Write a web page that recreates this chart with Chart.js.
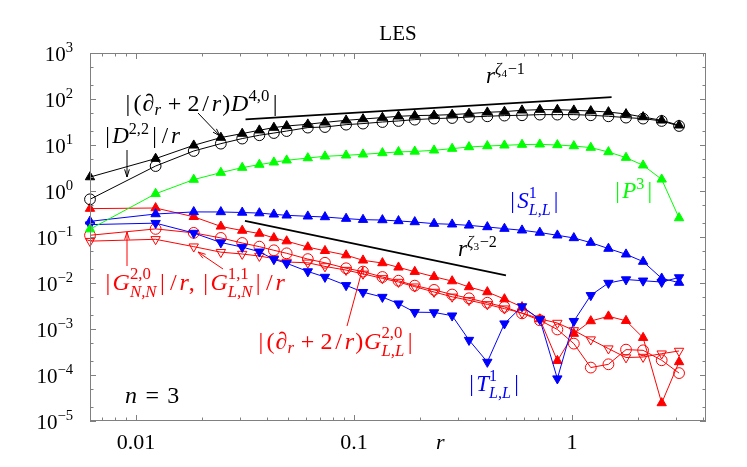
<!DOCTYPE html>
<html>
<head>
<meta charset="utf-8">
<script src="https://cdn.jsdelivr.net/npm/chart.js@4.4.1/dist/chart.umd.min.js"></script>
<style>
  html, body { margin: 0; padding: 0; background: #fff; }
  #wrap { width: 747px; height: 467px; }
</style>
</head>
<body>
<div id="wrap"><canvas id="les" width="747" height="467"></canvas></div>
<script>
// separation r
const r = [0.00615, 0.0123, 0.0184, 0.0245, 0.0307, 0.0368, 0.0429, 0.0491, 0.0614, 0.0736,
  0.0920, 0.110, 0.135, 0.160, 0.190, 0.233, 0.282, 0.337, 0.409, 0.490,
  0.590, 0.712, 0.857, 1.02, 1.22, 1.47, 1.77, 2.12, 2.58, 3.10];

// |(d_r + 2/r) D^{4,0}|  (black filled triangles)
const d40 = [2.01, 5.06, 9.84, 14.5, 17.7, 20.9, 23.9, 25.9, 28.2, 31.1,
  34.4, 36.7, 39.4, 42.1, 43.6, 44.3, 45.8, 48.2, 51.4, 53.2,
  56.8, 58.7, 58.7, 56.8, 54.8, 52.1, 47.2, 40.6, 34.4, 26.8];
// |D^{2,2}|/r  (black open circles)
const d22 = [0.66, 3.49, 7.41, 10.7, 13.8, 16.3, 18.2, 20.1, 23.9, 24.6,
  27.7, 29.2, 31.6, 33.3, 35.6, 37.5, 38.6, 40.6, 42.1, 43.6,
  44.3, 45.8, 45.8, 45.8, 44.3, 42.1, 39.4, 37.5, 33.3, 25.9];
// |P^3|  (green)
const p3 = [0.148, 0.871, 1.77, 2.51, 3.22, 3.75, 4.21, 4.65, 5.21, 5.68,
  5.97, 6.27, 6.70, 7.08, 7.24, 7.67, 8.34, 9.06, 9.51, 9.84,
  10.2, 10.35, 10.0, 9.51, 8.77, 7.05, 5.31, 3.62, 1.79, 0.259];
// |S^1_{L,L}|  (blue up)
const s1 = [0.219, 0.316, 0.351, 0.350, 0.341, 0.331, 0.311, 0.296, 0.282, 0.272,
  0.251, 0.238, 0.234, 0.223, 0.212, 0.195, 0.189, 0.179, 0.165, 0.152,
  0.140, 0.125, 0.109, 0.0953, 0.0755, 0.056, 0.0421, 0.0292, 0.0126, 0.0102];
// |T^1_{L,L}|  (blue down)
const t1 = [0.186, 0.200, 0.122, 0.0759, 0.0603, 0.0479, 0.0327, 0.0268, 0.0178, 0.0135,
  0.00891, 0.00631, 0.00495, 0.00356, 0.00232, 0.00229, 0.00195, 0.000575, 0.000192, 0.00131,
  0.00309, 0.00162, 0.0000836, 0.00148, 0.00541, 0.0100, 0.0119, 0.0112, 0.0105, 0.0132];
// |(d_r + 2/r) G^{2,0}_{L,L}|  (red filled triangles)
const gLL = [0.414, 0.427, 0.275, 0.170, 0.138, 0.119, 0.0955, 0.0813, 0.0603, 0.0501,
  0.0403, 0.0311, 0.0272, 0.0219, 0.0176, 0.0137, 0.0110, 0.00818, 0.00637, 0.00447,
  0.00301, 0.00164, 0.000204, 0.000794, 0.00149, 0.00189, 0.00151, 0.000646, 0.0000246, 0.000192];
// |G^{2,0}_{N,N}|/r  (red open circles)
const gNN = [0.109, 0.150, 0.123, 0.0955, 0.0741, 0.0617, 0.0514, 0.0442, 0.0331, 0.0275,
  0.0209, 0.0177, 0.0135, 0.0112, 0.00877, 0.00708, 0.00562, 0.00465, 0.00372, 0.00302,
  0.00219, 0.00155, 0.000977, 0.000481, 0.000145, 0.000171, 0.000356, 0.000344, 0.000209, 0.000110];
// |G^{1,1}_{L,N}|/r  (red open down triangles)
const gLN = [0.0813, 0.0891, 0.0617, 0.0468, 0.0427, 0.0386, 0.0339, 0.0286, 0.0275, 0.0229,
  0.0191, 0.0158, 0.0126, 0.0105, 0.00832, 0.00637, 0.00501, 0.00421, 0.00343, 0.00277,
  0.00224, 0.00166, 0.00135, 0.000933, 0.000589, 0.000375, 0.000240, 0.000246, 0.000291, 0.000333];

// reference slopes
const fit4R = [0.0318, 1.52];
const fit4V = [36.2, 110];
const fit3R = [0.0316, 0.498];
const fit3V = [0.223, 0.0147];

// ticks
const xTickVals = [0.01, 0.1, 1];
const xTickLabels = ['0.01', '0.1', '1'];
const yTickExps = [3, 2, 1, 0, -1, -2, -3, -4, -5];

const SERIF = '"Liberation Serif", "Times New Roman", serif';
const RED = '#ff0000', BLUE = '#0000ff', GREEN = '#00ff00', BLACK = '#000000';
const NONE = 'rgba(0,0,0,0)';

function fontStr(size, it) {
  return (it ? 'italic ' : '') + size + 'px ' + SERIF;
}

// extra side bearing so that bars, slashes and parens look like TeX
const padChar = { '|': 0.1, '/': 0.12, '(': 0.04, ')': 0.04 };

// tiny rich-text renderer: strings, {t, it}, {gap}, {sup, sub}
function rich(ctx, parts, size, x, y, draw) {
  let cx = x;
  for (let p of parts) {
    if (typeof p === 'string') p = { t: p };
    if (p.gap !== undefined) { cx += p.gap * size; continue; }
    if (p.t !== undefined) {
      ctx.font = fontStr(size, p.it);
      for (const ch of p.t) {
        const pad = (padChar[ch] || 0) * size;
        cx += pad;
        if (draw) ctx.fillText(ch, cx, y);
        cx += ctx.measureText(ch).width + pad;
      }
      continue;
    }
    const s = size * 0.7;
    let adv = 0;
    if (p.sup) adv = Math.max(adv, rich(ctx, p.sup, s, cx, y - size * (p.sub ? 0.45 : 0.4), draw));
    if (p.sub) adv = Math.max(adv, rich(ctx, p.sub, s, cx, y + size * (p.sup ? 0.3 : 0.17), draw));
    cx += adv + size * 0.04;
  }
  return cx - x;
}

function label(ctx, parts, size, x, y, color, align) {
  ctx.save();
  ctx.fillStyle = color;
  ctx.textAlign = 'left';
  ctx.textBaseline = 'alphabetic';
  const w = rich(ctx, parts, size, 0, 0, false);
  const x0 = align === 'center' ? x - w / 2 : align === 'right' ? x - w : x;
  rich(ctx, parts, size, x0, y, true);
  ctx.restore();
}

function arrow(ctx, x1, y1, x2, y2, color) {
  const ang = Math.atan2(y2 - y1, x2 - x1);
  const h = 8, spread = 0.3;
  ctx.save();
  ctx.strokeStyle = color;
  ctx.lineWidth = 1;
  ctx.beginPath();
  ctx.moveTo(x1, y1);
  ctx.lineTo(x2, y2);
  ctx.moveTo(x2 - h * Math.cos(ang - spread), y2 - h * Math.sin(ang - spread));
  ctx.lineTo(x2, y2);
  ctx.lineTo(x2 - h * Math.cos(ang + spread), y2 - h * Math.sin(ang + spread));
  ctx.stroke();
  ctx.restore();
}

const R_ = { t: 'r', it: true };
const dr = [{ t: '∂', it: true }, { sub: [R_] }];
const plus = [{ gap: 0.25 }, '+', { gap: 0.25 }];

// annotations: parts, size, x, baseline y, colour, align
const notes = [
  [['LES'], 21, 398, 40, BLACK, 'center'],
  [['|(', ...dr, ...plus, '2/', R_, ')', { t: 'D', it: true }, { sup: ['4,0'] }, '|'], 24, 123, 111, BLACK, 'left'],
  [['|', { t: 'D', it: true }, { sup: ['2,2'] }, '|/', R_], 23, 103, 143, BLACK, 'left'],
  [[R_, { sup: [{ t: 'ζ', it: true }, { sub: ['4'] }, '−1'] }], 23, 486, 83, BLACK, 'left'],
  [['|', { t: 'P', it: true }, { sup: ['3'] }, '|'], 23, 613, 198, GREEN, 'left'],
  [['|', { t: 'S', it: true }, { sup: ['1'], sub: [{ t: 'L,L', it: true }] }, '|'], 23, 508, 208, BLUE, 'left'],
  [[R_, { sup: [{ t: 'ζ', it: true }, { sub: ['3'] }, '−2'] }], 23, 458, 256, BLACK, 'left'],
  [['|', { t: 'G', it: true }, { sup: ['2,0'], sub: [{ t: 'N,N', it: true }] }, '|/', R_, ', |',
    { t: 'G', it: true }, { sup: ['1,1'], sub: [{ t: 'L,N', it: true }] }, '|/', R_], 24, 103, 290, RED, 'left'],
  [['|(', ...dr, ...plus, '2/', R_, ')', { t: 'G', it: true }, { sup: ['2,0'], sub: [{ t: 'L,L', it: true }] }, '|'],
    24, 256, 349, RED, 'left'],
  [['|', { t: 'T', it: true }, { sup: ['1'], sub: [{ t: 'L,L', it: true }] }, '|'], 23, 467, 391, BLUE, 'left'],
  [[{ t: 'n', it: true }, { gap: 0.35 }, '=', { gap: 0.35 }, '3'], 24, 125, 403, BLACK, 'left'],
  [[R_], 22, 436, 449, BLACK, 'left']
];

const arrows = [
  [198, 113, 220, 136, BLACK],
  [127, 150, 127, 177, BLACK],
  [127, 266, 127, 232, RED],
  [223, 269, 198, 252, RED],
  [347, 326, 363, 267, RED]
];

const decor = {
  id: 'decor',
  afterDatasetsDraw(chart) {
    const { ctx, chartArea: a, scales: { x, y } } = chart;
    ctx.save();
    ctx.strokeStyle = '#808080';
    ctx.lineWidth = 1;
    ctx.strokeRect(a.left + 0.5, a.top + 0.5, a.right - a.left - 1, a.bottom - a.top - 1);
    ctx.beginPath();
    for (let e = -3; e <= 0; e++) {
      for (let m = 1; m <= 9; m++) {
        const v = m * Math.pow(10, e);
        if (v < x.min || v > x.max) continue;
        const px = Math.round(x.getPixelForValue(v)) + 0.5;
        const len = m === 1 ? 6 : 3.5;
        ctx.moveTo(px, a.bottom); ctx.lineTo(px, a.bottom - len);
        ctx.moveTo(px, a.top); ctx.lineTo(px, a.top + len);
      }
    }
    for (let e = -5; e <= 3; e++) {
      for (const m of [1, 2, 5]) {
        const v = m * Math.pow(10, e);
        if (v < y.min || v > y.max) continue;
        const py = Math.round(y.getPixelForValue(v)) + 0.5;
        const len = m === 1 ? 6 : 3.5;
        ctx.moveTo(a.left, py); ctx.lineTo(a.left + len, py);
        ctx.moveTo(a.right, py); ctx.lineTo(a.right - len, py);
      }
    }
    ctx.stroke();
    ctx.restore();

    // tick labels
    xTickVals.forEach((v, i) => {
      label(ctx, [xTickLabels[i]], 22, x.getPixelForValue(v), 449, BLACK, 'center');
    });
    yTickExps.forEach(e => {
      const s = e < 0 ? '−' + (-e) : String(e);
      label(ctx, ['10', { sup: [s] }], 21, 74, y.getPixelForValue(Math.pow(10, e)) + 7.5, BLACK, 'right');
    });

    notes.forEach(n => label(ctx, n[0], n[1], n[2], n[3], n[4], n[5]));
    arrows.forEach(a2 => arrow(ctx, a2[0], a2[1], a2[2], a2[3], a2[4]));
  }
};

function series(name, vals, color, style, filled, order, rotation) {
  return {
    label: name,
    data: r.map((v, i) => ({ x: v, y: vals[i] })),
    borderColor: color,
    borderWidth: 1,
    backgroundColor: filled ? color : NONE,
    pointStyle: style,
    pointRotation: rotation || 0,
    pointRadius: 5.4,
    pointHoverRadius: 5.4,
    pointBorderWidth: 1,
    pointBackgroundColor: filled ? color : NONE,
    pointBorderColor: color,
    tension: 0,
    clip: false,
    order: order
  };
}

function slope(name, xs, ys) {
  return {
    label: name,
    data: xs.map((v, i) => ({ x: v, y: ys[i] })),
    borderColor: BLACK,
    borderWidth: 1.8,
    pointRadius: 0,
    pointHoverRadius: 0,
    order: 20
  };
}

new Chart(document.getElementById('les'), {
  type: 'line',
  data: {
    datasets: [
      series('|(∂r+2/r)D4,0|', d40, BLACK, 'triangle', true, 1),
      series('|D2,2|/r', d22, BLACK, 'circle', false, 2),
      series('|P3|', p3, GREEN, 'triangle', true, 3),
      series('|S1LL|', s1, BLUE, 'triangle', true, 4),
      series('|T1LL|', t1, BLUE, 'triangle', true, 5, 180),
      series('|(∂r+2/r)G2,0LL|', gLL, RED, 'triangle', true, 6),
      series('|G2,0NN|/r', gNN, RED, 'circle', false, 7),
      series('|G1,1LN|/r', gLN, RED, 'triangle', false, 8, 180),
      slope('r^(zeta4-1)', fit4R, fit4V),
      slope('r^(zeta3-2)', fit3R, fit3V)
    ]
  },
  options: {
    responsive: false,
    animation: false,
    events: [],
    layout: { padding: { left: 90, right: 41, top: 53, bottom: 46 } },
    plugins: {
      legend: { display: false },
      title: { display: false },
      tooltip: { enabled: false }
    },
    scales: {
      x: { type: 'logarithmic', min: 0.00615, max: 4.12, bounds: 'data', display: false },
      y: { type: 'logarithmic', min: 1e-5, max: 1e3, bounds: 'data', display: false }
    }
  },
  plugins: [decor]
});
</script>
</body>
</html>
